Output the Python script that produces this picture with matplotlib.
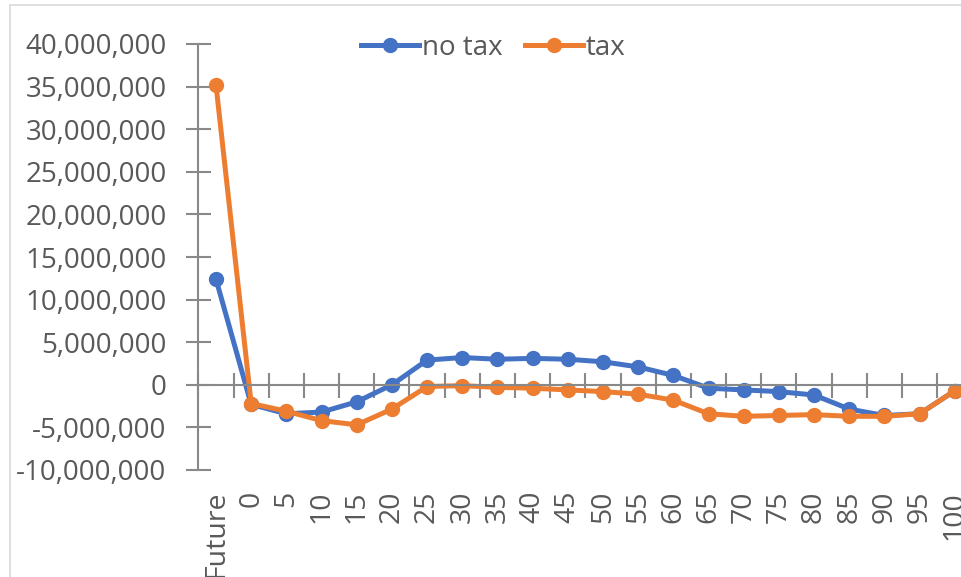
import matplotlib.pyplot as plt
from matplotlib.patches import Rectangle
from matplotlib.ticker import FuncFormatter, FixedLocator

# categories along the x axis
periods = ['Future', '0', '5', '10', '15', '20', '25', '30', '35', '40', '45',
           '50', '55', '60', '65', '70', '75', '80', '85', '90', '95', '100']

# values
no_tax = [12.4e6, -2.3e6, -3.4e6, -3.2e6, -2.0e6, 0.0, 2.9e6, 3.2e6, 3.0e6, 3.1e6, 3.0e6,
          2.7e6, 2.1e6, 1.1e6, -0.4e6, -0.6e6, -0.8e6, -1.2e6, -2.85e6, -3.6e6, -3.4e6, -0.7e6]
tax = [35.2e6, -2.2e6, -3.1e6, -4.2e6, -4.7e6, -2.85e6, -0.2e6, -0.1e6, -0.3e6, -0.4e6, -0.6e6,
       -0.8e6, -1.1e6, -1.8e6, -3.4e6, -3.7e6, -3.6e6, -3.5e6, -3.7e6, -3.7e6, -3.4e6, -0.7e6]

blue = '#4472C4'
orange = '#ED7D31'
axis_col = '#898989'
text_col = '#595959'

plt.rcParams['font.family'] = ['Open Sans', 'DejaVu Sans']

fig = plt.figure(figsize=(9.61, 5.77), dpi=100)
# chart area border (cut by the picture edge)
fig.patches.append(Rectangle((10 / 961, -0.1), 1.2, (577 - 5) / 577 + 0.1,
                             transform=fig.transFigure, fill=False,
                             edgecolor='#D9D9D9', linewidth=1.2))

ax = fig.add_axes([198.4 / 961, 107 / 577, 774 / 961, 426 / 577])
x = list(range(len(periods)))
ax.plot(x, no_tax, color=blue, lw=3.6, marker='o', ms=10, label='no tax')
ax.plot(x, tax, color=orange, lw=3.6, marker='o', ms=10, label='tax')

ax.set_xlim(-0.5, len(periods) - 0.5)
ax.set_ylim(-10e6, 40e6)
ax.set_yticks(range(-10_000_000, 40_000_001, 5_000_000))
ax.yaxis.set_major_formatter(FuncFormatter(lambda v, p: f'{int(v):,}'))

for s in ['top', 'right']:
    ax.spines[s].set_visible(False)
ax.spines['left'].set_color(axis_col)
ax.spines['left'].set_linewidth(1.5)
ax.spines['bottom'].set_position(('data', 0))
ax.spines['bottom'].set_color(axis_col)
ax.spines['bottom'].set_linewidth(1.5)

ax.tick_params(axis='y', direction='inout', length=18, width=1.5, color=axis_col,
               labelsize=20, labelcolor=text_col, pad=14)
# x axis: cross marks between categories on the zero line
ax.xaxis.set_major_locator(FixedLocator([i + 0.5 for i in x[:-1]] + [-0.5]))
ax.tick_params(axis='x', direction='inout', length=18, width=1.5, color=axis_col,
               labelbottom=False)

# category labels at the bottom of the plot
sec = ax.secondary_xaxis(0.0)
sec.set_xticks(x)
sec.set_xticklabels(periods, rotation=90)
sec.spines['bottom'].set_visible(False)
sec.tick_params(length=0, labelsize=20.5, labelcolor=text_col, pad=15)

fig.legend(loc='center', bbox_to_anchor=(493 / 961, 1 - 48 / 577), ncol=2,
           frameon=False, fontsize=20, labelcolor=text_col, handlelength=2.1,
           handletextpad=0.1, columnspacing=0.8)

fig.savefig('out.png', dpi=100)
